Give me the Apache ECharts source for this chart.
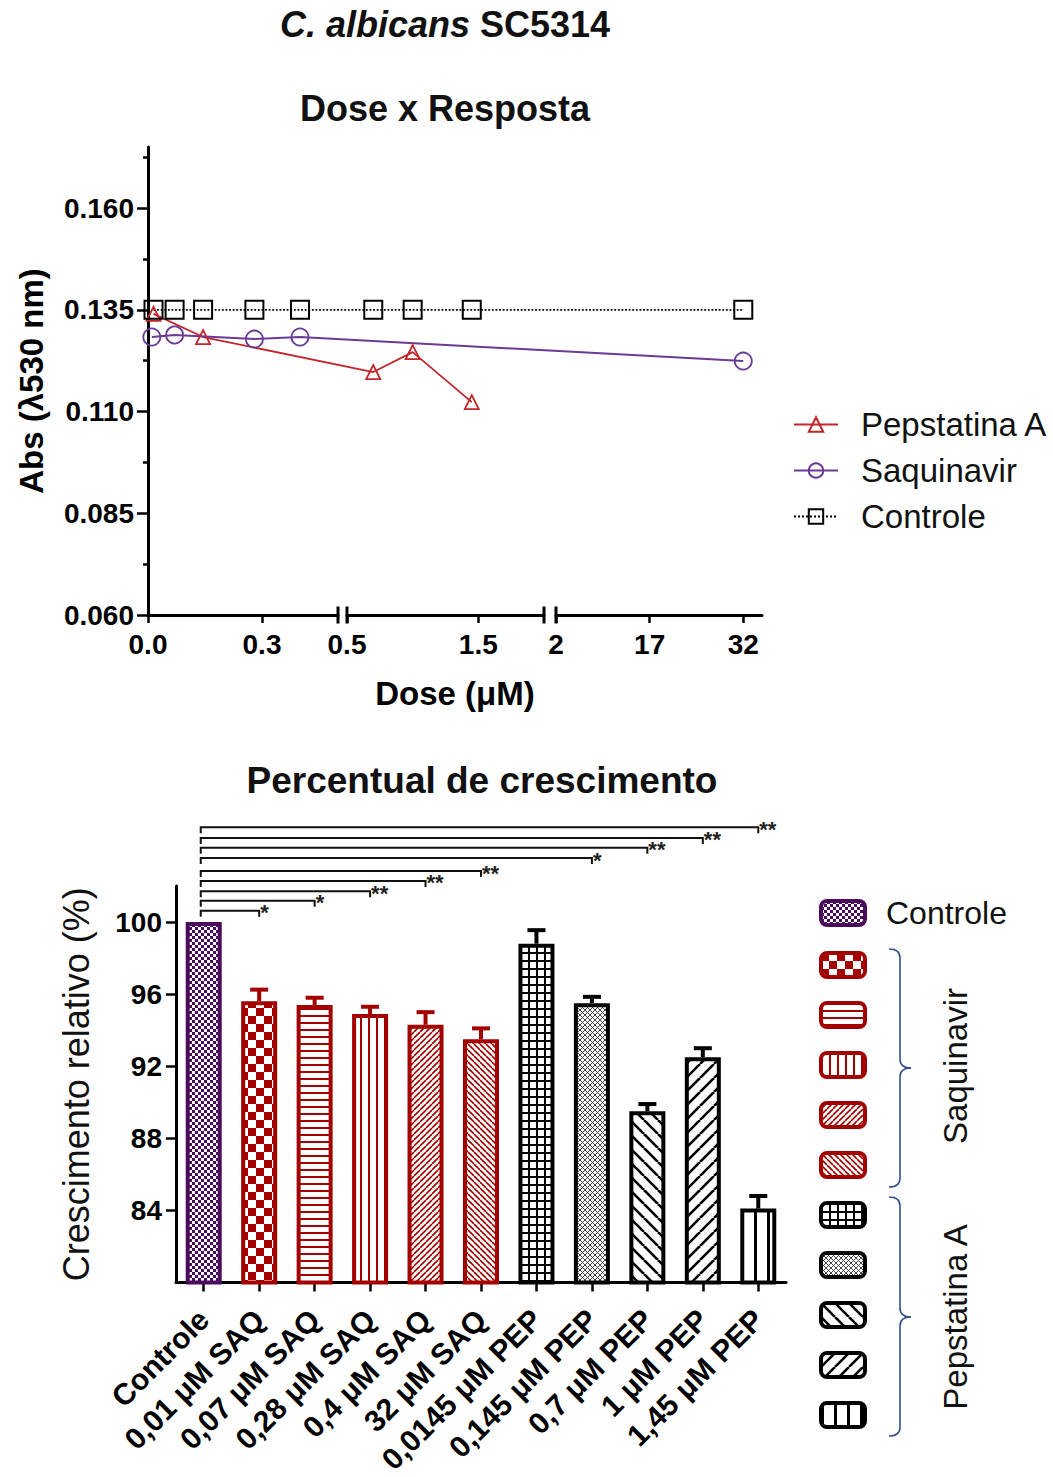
<!DOCTYPE html>
<html>
<head>
<meta charset="utf-8">
<title>C. albicans SC5314</title>
<script src="https://cdn.jsdelivr.net/npm/echarts@6/dist/echarts.min.js"></script>
<style>
html, body { margin: 0; padding: 0; background: #fff; }
#chart { width: 1053px; height: 1477px; }
</style>
</head>
<body>
<div id="chart"></div>
<script>
// ---- top panel: dose x resposta ----
var pepDose = [0.0145, 0.145, 0.7, 1, 1.45];
var pepAbs = [0.134, 0.1283, 0.1197, 0.1246, 0.1123];
var saqDose = [0.01, 0.07, 0.28, 0.4, 32];
var saqAbs = [0.1283, 0.1288, 0.1278, 0.1283, 0.1224];
var ctrlDose = [0.0145, 0.07, 0.145, 0.28, 0.4, 0.7, 1, 1.45, 32];
var ctrlAbs = [0.135, 0.135, 0.135, 0.135, 0.135, 0.135, 0.135, 0.135, 0.135];
var absTicks = [0.060, 0.085, 0.110, 0.135, 0.160];
var absMinorTicks = [0.0725, 0.0975, 0.1225, 0.1475, 0.1725];
var doseTicks = [[0, 0.3], [0.5, 1.5], [2, 17, 32]];
var doseTickLabels = [['0.0', '0.3'], ['0.5', '1.5'], ['2', '17', '32']];

// ---- bottom panel: percentual de crescimento ----
var groupNames = ['Controle', '0,01 μM SAQ', '0,07 μM SAQ', '0,28 μM SAQ', '0,4 μM SAQ', '32 μM SAQ',
    '0,0145 μM PEP', '0,145 μM PEP', '0,7 μM PEP', '1 μM PEP', '1,45 μM PEP'];
var growth = [100, 95.6, 95.4, 94.9, 94.3, 93.5, 98.8, 95.5, 89.5, 92.5, 84.1];
var growthSem = [0, 0.65, 0.4, 0.4, 0.7, 0.6, 0.75, 0.35, 0.4, 0.5, 0.7];
var growthTicks = [84, 88, 92, 96, 100];
// comparisons against Controle
var sigTarget = [1, 2, 3, 4, 5, 7, 8, 9, 10];
var sigLevel = [100.62, 101.18, 101.71, 102.28, 102.83, 103.55, 104.12, 104.67, 105.26];
var sigMark = ['*', '*', '**', '**', '**', '*', '**', '**', '**'];

var FONT = '"Liberation Sans", Arial, sans-serif';
var RED = '#a30000', PURPLE = '#4b0b5c', BLACK = '#000';

// broken dose axis: each piece has its own linear scale
var doseSegments = [
    { min: 0, max: 0.5, left: 148, width: 190 },
    { min: 0.5, max: 2, left: 347, width: 197 },
    { min: 2, max: 35, left: 556, width: 206 }
];
var doseLeft = 148, doseWidth = 614;

function doseToAxis(d) {
    for (var i = 0; i < doseSegments.length; i++) {
        var s = doseSegments[i];
        if (d <= s.max || i === doseSegments.length - 1) {
            return s.left - doseLeft + (d - s.min) / (s.max - s.min) * s.width;
        }
    }
}

function makeTile(size, bg, draw) {
    var c = document.createElement('canvas');
    c.width = size;
    c.height = size;
    var ctx = c.getContext('2d');
    ctx.fillStyle = bg;
    ctx.fillRect(0, 0, size, size);
    draw(ctx, size);
    return { image: c, repeat: 'repeat', imageWidth: size, imageHeight: size };
}
function checker(cell, fg, bg) {
    return makeTile(cell * 2, bg, function (ctx) {
        ctx.fillStyle = fg;
        ctx.fillRect(0, 0, cell, cell);
        ctx.fillRect(cell, cell, cell, cell);
    });
}
function stripes(size, w, fg, vertical) {
    return makeTile(size, '#fff', function (ctx) {
        ctx.fillStyle = fg;
        if (vertical) ctx.fillRect(0, 0, w, size);
        else ctx.fillRect(0, 0, size, w);
    });
}
function gridTile(size, w, fg) {
    return makeTile(size, '#fff', function (ctx) {
        ctx.fillStyle = fg;
        ctx.fillRect(0, 0, w, size);
        ctx.fillRect(0, 0, size, w);
    });
}
function diagonal(size, w, fg, rising, both) {
    return makeTile(size, '#fff', function (ctx) {
        ctx.strokeStyle = fg;
        ctx.lineWidth = w;
        ctx.beginPath();
        for (var k = -1; k <= 1; k++) {
            if (rising || both) { ctx.moveTo(k * size, size); ctx.lineTo(k * size + size, 0); }
            if (!rising || both) { ctx.moveTo(k * size, 0); ctx.lineTo(k * size + size, size); }
        }
        ctx.stroke();
    });
}

var barStyles = [
    { stroke: PURPLE, fill: checker(3, PURPLE, '#fff') },
    { stroke: RED, fill: checker(8, RED, '#fff') },
    { stroke: RED, fill: stripes(7, 2, RED, false) },
    { stroke: RED, fill: stripes(8, 2, RED, true) },
    { stroke: RED, fill: diagonal(6, 1.6, RED, true) },
    { stroke: RED, fill: diagonal(6, 1.6, RED, false) },
    { stroke: BLACK, fill: gridTile(8, 2, BLACK) },
    { stroke: BLACK, fill: diagonal(5, 0.9, '#333', true, true) },
    { stroke: BLACK, fill: diagonal(14, 2.6, BLACK, false) },
    { stroke: BLACK, fill: diagonal(14, 2.6, BLACK, true) },
    { stroke: BLACK, fill: stripes(13, 3, BLACK, true) }
];
var barNames = groupNames.map(function (n) { return 'Crescimento ' + n; });

function renderError(params, api) {
    var i = api.value(0);
    var err = api.value(2);
    if (!err) return null;
    var base = api.coord([i, api.value(1)]);
    var top = api.coord([i, api.value(1) + err]);
    var style = { stroke: barStyles[i].stroke, lineWidth: 4 };
    return {
        type: 'group',
        children: [
            { type: 'line', shape: { x1: base[0], y1: base[1], x2: top[0], y2: top[1] }, style: style },
            { type: 'line', shape: { x1: top[0] - 9, y1: top[1], x2: top[0] + 9, y2: top[1] }, style: style }
        ]
    };
}

function renderBracket(params, api) {
    var a = api.coord([0, api.value(1)]);
    var b = api.coord([api.value(0), api.value(1)]);
    return {
        type: 'group',
        children: [
            {
                type: 'polyline',
                shape: { points: [[a[0] - 3, a[1] + 6], [a[0] - 3, a[1]], [b[0], a[1]], [b[0], a[1] + 6]] },
                style: { stroke: '#111', lineWidth: 2, fill: null }
            },
            {
                type: 'text',
                x: b[0] + 1,
                y: a[1] + 13,
                style: { text: sigMark[params.dataIndex], fontSize: 22, fontWeight: 'bold', fontFamily: FONT, fill: '#222', align: 'left', verticalAlign: 'bottom' }
            }
        ]
    };
}

function brace(top, mid, bottom) {
    var x0 = 889, x1 = 900, x2 = 911, r = 9;
    var s = { stroke: '#34508a', lineWidth: 1.6, fill: null };
    return [
        { type: 'bezierCurve', shape: { x1: x0, y1: top, cpx1: x1, cpy1: top, x2: x1, y2: top + r }, style: s },
        { type: 'line', shape: { x1: x1, y1: top + r, x2: x1, y2: mid - r }, style: s },
        { type: 'bezierCurve', shape: { x1: x1, y1: mid - r, cpx1: x1, cpy1: mid, x2: x2, y2: mid }, style: s },
        { type: 'bezierCurve', shape: { x1: x2, y1: mid, cpx1: x1, cpy1: mid, x2: x1, y2: mid + r }, style: s },
        { type: 'line', shape: { x1: x1, y1: mid + r, x2: x1, y2: bottom - r }, style: s },
        { type: 'bezierCurve', shape: { x1: x1, y1: bottom - r, cpx1: x1, cpy1: bottom, x2: x0, y2: bottom }, style: s }
    ];
}

function label(text, x, y, size, weight, rotation) {
    return {
        type: 'text', x: x, y: y, rotation: rotation || 0,
        style: {
            text: text, fontSize: size, fontWeight: weight, fontFamily: FONT, fill: '#111',
            align: 'center', verticalAlign: 'middle',
            rich: { i: { fontStyle: 'italic', fontWeight: 'bold', fontSize: size, fontFamily: FONT, fill: '#111' } }
        }
    };
}

var axisLineStyle = { color: BLACK, width: 3 };
var tickLabel = { color: BLACK, fontSize: 28, fontWeight: 'bold', fontFamily: FONT };
var axisName = { color: BLACK, fontSize: 33, fontWeight: 'bold', fontFamily: FONT };

var grids = [{ left: doseLeft, top: 147, width: doseWidth, height: 468 }];
var xAxes = [{
    gridIndex: 0, type: 'value', min: 0, max: doseWidth,
    axisLine: { show: false }, axisTick: { show: false }, axisLabel: { show: false }, splitLine: { show: false },
    name: 'Dose (μM)', nameLocation: 'middle', nameGap: 62, nameTextStyle: axisName
}];
var yAxes = [{
    gridIndex: 0, type: 'value', min: 0.06, max: 0.175, position: 'left',
    axisLine: { show: true, onZero: false, lineStyle: axisLineStyle },
    axisTick: { show: true, customValues: absMinorTicks, length: 5, lineStyle: { width: 2.5, color: BLACK } },
    axisLabel: { show: false }, splitLine: { show: false },
    name: 'Abs (λ530 nm)', nameLocation: 'middle', nameGap: 100, nameTextStyle: axisName
}, {
    gridIndex: 0, type: 'value', min: 0.06, max: 0.175, position: 'left',
    axisLine: { show: false, onZero: false },
    axisTick: { show: true, customValues: absTicks, length: 11, lineStyle: { width: 2.5, color: BLACK } },
    axisLabel: Object.assign({ customValues: absTicks, margin: 14, formatter: function (v) { return v.toFixed(3); } }, tickLabel),
    splitLine: { show: false }
}];

doseSegments.forEach(function (s, i) {
    grids.push({ left: s.left, top: 147, width: s.width, height: 468 });
    var first = i === 0, last = i === doseSegments.length - 1;
    xAxes.push({
        gridIndex: i + 1, type: 'value', min: s.min, max: s.max,
        axisLine: {
            show: true, onZero: false, lineStyle: axisLineStyle,
            symbol: [first ? 'none' : 'rect', last ? 'none' : 'rect'], symbolSize: [17, 3]
        },
        axisTick: { show: true, customValues: doseTicks[i], length: 8, lineStyle: { width: 2.5, color: BLACK } },
        axisLabel: Object.assign({
            customValues: doseTicks[i], margin: 15,
            formatter: function (v) { return doseTickLabels[i][doseTicks[i].indexOf(v)]; }
        }, tickLabel),
        splitLine: { show: false }
    });
    yAxes.push({ gridIndex: i + 1, type: 'value', min: 0, max: 1, show: false });
});

grids.push({ left: 176, top: 886, width: 610, height: 399 });
xAxes.push({
    gridIndex: 4, type: 'category', data: groupNames,
    axisLine: { show: true, onZero: false, lineStyle: axisLineStyle },
    axisTick: { show: true, alignWithLabel: true, length: 9, lineStyle: { width: 2.5, color: BLACK } },
    axisLabel: { interval: 0, rotate: 45, margin: 32, color: BLACK, fontSize: 30, fontWeight: 'bold', fontFamily: FONT }
});
yAxes.push({
    gridIndex: 4, type: 'value', min: 80, max: 102,
    axisLine: { show: true, onZero: false, lineStyle: axisLineStyle },
    axisTick: { show: true, customValues: growthTicks, length: 10, lineStyle: { width: 2.5, color: BLACK } },
    axisLabel: Object.assign({ customValues: growthTicks, margin: 14 }, tickLabel),
    splitLine: { show: false },
    name: 'Crescimento relativo (%)', nameLocation: 'middle', nameGap: 82,
    nameTextStyle: { color: '#111', fontSize: 36, fontFamily: FONT }
});

function toPoints(doses, values) {
    return doses.map(function (d, i) { return [doseToAxis(d), values[i]]; });
}

var series = [{
    name: 'Pepstatina A', type: 'line', xAxisIndex: 0, yAxisIndex: 0,
    data: toPoints(pepDose, pepAbs),
    symbol: 'triangle', symbolSize: 14,
    itemStyle: { color: 'transparent', borderColor: '#c0262b', borderWidth: 1.8 },
    lineStyle: { color: '#c0262b', width: 1.8 }
}, {
    name: 'Saquinavir', type: 'line', xAxisIndex: 0, yAxisIndex: 0,
    data: toPoints(saqDose, saqAbs),
    symbol: 'circle', symbolSize: 17,
    itemStyle: { color: 'transparent', borderColor: '#6a3a96', borderWidth: 1.8 },
    lineStyle: { color: '#6a3a96', width: 2 }
}, {
    name: 'Controle', type: 'line', xAxisIndex: 0, yAxisIndex: 0,
    data: toPoints(ctrlDose, ctrlAbs),
    symbol: 'rect', symbolSize: 18,
    itemStyle: { color: 'transparent', borderColor: BLACK, borderWidth: 2 },
    lineStyle: { color: BLACK, width: 1.8, type: 'dotted' }
}];

groupNames.forEach(function (g, i) {
    series.push({
        name: barNames[i], type: 'bar', xAxisIndex: 4, yAxisIndex: 5,
        barWidth: 36, barGap: '-100%',
        data: growth.map(function (v, j) { return j === i ? v : '-'; }),
        itemStyle: { color: barStyles[i].fill, borderColor: barStyles[i].stroke, borderWidth: 4 }
    });
});

series.push({
    type: 'custom', name: 'sem', xAxisIndex: 4, yAxisIndex: 5, z: 5,
    data: growth.map(function (v, i) { return [i, v, growthSem[i]]; }),
    renderItem: renderError
});
series.push({
    type: 'custom', name: 'sig', xAxisIndex: 4, yAxisIndex: 5, clip: false, z: 5,
    data: sigTarget.map(function (t, k) { return [t, sigLevel[k]]; }),
    renderItem: renderBracket
});

var chart = echarts.init(document.getElementById('chart'), null, { renderer: 'svg' });
chart.setOption({
    animation: false,
    backgroundColor: '#fff',
    textStyle: { fontFamily: FONT },
    grid: grids,
    xAxis: xAxes,
    yAxis: yAxes,
    legend: [{
        data: ['Pepstatina A', 'Saquinavir', 'Controle'],
        orient: 'vertical', left: 793, top: 408, padding: 0,
        itemWidth: 44, itemHeight: 18, itemGap: 13,
        textStyle: { fontSize: 33, lineHeight: 33, color: '#111', fontFamily: FONT, padding: [0, 0, 0, 18] }
    }, {
        data: barNames,
        orient: 'vertical', left: 819, top: 897, padding: 0,
        icon: 'roundRect', itemWidth: 44, itemHeight: 24, itemGap: 22,
        itemStyle: { borderWidth: 4 },
        formatter: function (name) { return name === barNames[0] ? groupNames[0] : ''; },
        textStyle: { fontSize: 32, lineHeight: 24, color: '#111', fontFamily: FONT, padding: [0, 0, 0, 16] }
    }],
    graphic: [
        label('{i|C. albicans} SC5314', 445, 24, 36, 'bold'),
        label('Dose x Resposta', 445, 108, 36, 'bold'),
        label('Percentual de crescimento', 482, 780, 37, 'bold'),
        label('Saquinavir', 955, 1066, 33, 'normal', Math.PI / 2),
        label('Pepstatina A', 955, 1317, 33, 'normal', Math.PI / 2)
    ].concat(brace(949, 1068, 1187), brace(1197, 1317, 1436)),
    series: series
});
</script>
</body>
</html>
